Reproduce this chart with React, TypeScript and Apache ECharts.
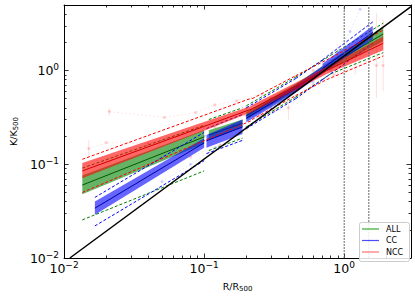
import React, { useEffect, useRef } from "react";
import * as echarts from "echarts";

const FONT = "DejaVu Sans";

const xMin = 0.01;
const xMax = 3;
const yMin = 0.01;
const yMax = 5;
const majorTicksX = [0.01, 0.1, 1];
const minorTicksX = [0.02, 0.03, 0.04, 0.05, 0.06, 0.07, 0.08, 0.09, 0.2, 0.3, 0.4, 0.5, 0.6, 0.7, 0.8, 0.9, 2, 3];
const majorTicksY = [0.01, 0.1, 1];
const minorTicksY = [0.02, 0.03, 0.04, 0.05, 0.06, 0.07, 0.08, 0.09, 0.2, 0.3, 0.4, 0.5, 0.6, 0.7, 0.8, 0.9, 2, 3, 4, 5];

// fit segments: [x0, x1, bandLo0, bandHi0, bandLo1, bandHi1, mid0, mid1, dashUp0, dashUp1, dashLo0, dashLo1]
const allFits = [
  [0.0135, 0.1, 0.048, 0.076, 0.165, 0.232, 0.06, 0.196, 0.091, 0.26, 0.0255, 0.085],
  [0.108, 0.188, 0.182, 0.23, 0.25, 0.3, 0.205, 0.274, 0.3, 0.4, 0.14, 0.19],
  [0.2, 0.45, 0.3, 0.36, 0.6, 0.72, 0.33, 0.66, 0.42, 0.85, 0.25, 0.52],
  [0.45, 0.8, 0.6, 0.72, 1.05, 1.26, 0.66, 1.15, 0.85, 1.45, 0.52, 0.92],
  [0.8, 1.9, 1.03, 1.28, 2.05, 2.95, 1.15, 2.45, 1.45, 3.2, 0.92, 1.55],
];
const ccFits = [
  [0.0166, 0.1, 0.029, 0.04, 0.15, 0.19, 0.034, 0.169, 0.0443, 0.219, 0.022, 0.109],
  [0.104, 0.188, 0.15, 0.205, 0.21, 0.3, 0.178, 0.25, 0.24, 0.34, 0.13, 0.18],
  [0.2, 0.45, 0.28, 0.34, 0.58, 0.7, 0.31, 0.64, 0.4, 0.82, 0.24, 0.5],
  [0.45, 0.7, 0.58, 0.7, 0.93, 1.12, 0.64, 1.02, 0.82, 1.3, 0.5, 0.8],
  [0.7, 1.6, 0.93, 1.18, 2.15, 3.0, 1.05, 2.55, 1.3, 3.3, 0.8, 1.95],
];
const nccFits = [
  [0.0135, 0.22, 0.071, 0.103, 0.36, 0.42, 0.085, 0.39, 0.113, 0.51, 0.05, 0.294],
  [0.22, 0.45, 0.36, 0.43, 0.62, 0.74, 0.39, 0.68, 0.5, 0.88, 0.3, 0.54],
  [0.45, 0.75, 0.62, 0.74, 0.92, 1.09, 0.68, 1.0, 0.88, 1.3, 0.54, 0.8],
  [0.75, 1.9, 0.92, 1.09, 1.65, 2.3, 1.0, 1.95, 1.3, 2.7, 0.8, 1.43],
];

// self-similar baseline endpoints
const baselineX = [0.011, 3];
const baselineY = [0.01, 4.8];

// faint individual profiles (NCC pink, CC blue)
const nccProfiles = [
  [[0.021, 0.365], [0.052, 0.316], [0.087, 0.356], [0.119, 0.43], [0.171, 0.475], [0.26, 0.56]],
  [[0.015, 0.147], [0.02, 0.17], [0.04, 0.166], [0.065, 0.2], [0.12, 0.25], [0.2, 0.33], [0.35, 0.5]],
  [[0.6, 1.0], [0.9, 1.35], [1.2, 1.4], [1.7, 1.13], [1.9, 1.13]],
  [[0.3, 0.5], [0.45, 0.62], [0.7, 0.95], [1.0, 1.2], [1.3, 1.5]],
  [[0.25, 0.33], [0.4, 0.4], [0.6, 0.7], [0.85, 0.9]],
  [[0.08, 0.12], [0.13, 0.16], [0.2, 0.24], [0.32, 0.38]],
];
const ccProfiles = [
  [[0.2, 0.4], [0.3, 0.5], [0.45, 0.7], [0.7, 1.0], [0.9, 1.6], [1.1, 2.6], [1.3, 4.5], [1.4, 6]],
  [[0.05, 0.065], [0.08, 0.1], [0.12, 0.15], [0.2, 0.25], [0.3, 0.4]],
  [[0.3, 0.45], [0.45, 0.65], [0.6, 0.75], [0.8, 1.0]],
  [[0.1, 0.2], [0.16, 0.26], [0.25, 0.36], [0.4, 0.55]],
];
// error bars: [x, k, lo, hi]
const nccErrors = [
  [1.7, 1.13, 0.51, 4.1],
  [1.9, 1.13, 0.6, 3.5],
  [1.2, 1.4, 0.9, 2.2],
  [0.9, 1.35, 0.85, 1.9],
  [0.4, 0.4, 0.3, 0.52],
  [0.021, 0.365, 0.33, 0.4],
  [0.015, 0.147, 0.12, 0.18],
];

const legendItems = [
  { name: "ALL", color: "rgba(0,150,0,0.8)" },
  { name: "CC", color: "rgba(0,0,255,0.7)" },
  { name: "NCC", color: "rgba(255,0,0,0.55)" },
];

function supLabel(v: number) {
  const e = Math.round(Math.log10(v));
  return `{b|10}{e|${e < 0 ? "\u2212" + -e : e}}`;
}

const labelRich = {
  b: { fontSize: 12.5, fontFamily: FONT, color: "#000", lineHeight: 16 },
  e: { fontSize: 9, fontFamily: FONT, color: "#000", lineHeight: 10, verticalAlign: "top" },
};
const nameRich = {
  a: { fontSize: 9.5, fontFamily: FONT, color: "#000", lineHeight: 12 },
  s: { fontSize: 7, fontFamily: FONT, color: "#000", lineHeight: 7, verticalAlign: "bottom" },
};

function fitRenderer(fill: string, mid: string, dash: string) {
  return (params: any, api: any) => {
    const v = (i: number) => api.value(i);
    const p = (x: number, y: number) => api.coord([x, y]);
    const x0 = v(0);
    const x1 = v(1);
    const line = (a: number[], b: number[], stroke: string, dashed: boolean) => ({
      type: "line",
      shape: { x1: a[0], y1: a[1], x2: b[0], y2: b[1] },
      style: { stroke, lineWidth: 1, lineDash: dashed ? [3, 2] : null },
    });
    return {
      type: "group",
      children: [
        {
          type: "polygon",
          shape: { points: [p(x0, v(3)), p(x1, v(5)), p(x1, v(4)), p(x0, v(2))] },
          style: { fill },
        },
        line(p(x0, v(6)), p(x1, v(7)), mid, false),
        line(p(x0, v(8)), p(x1, v(9)), dash, true),
        line(p(x0, v(10)), p(x1, v(11)), dash, true),
      ],
    };
  };
}

function logAxis(kind: "x" | "y", pos: string, major: boolean, withLabel: boolean) {
  const isX = kind === "x";
  return {
    type: "log",
    logBase: 10,
    position: pos,
    min: isX ? xMin : yMin,
    max: isX ? xMax : yMax,
    axisLine: { show: major, lineStyle: { color: "#000", width: 1 } },
    axisTick: {
      show: true,
      inside: true,
      length: major ? 4.5 : 2.5,
      lineStyle: { color: "#000", width: 0.8 },
      customValues: major ? (isX ? majorTicksX : majorTicksY) : isX ? minorTicksX : minorTicksY,
    },
    axisLabel: withLabel
      ? {
          show: true,
          customValues: isX ? majorTicksX : majorTicksY,
          formatter: (v: number) => supLabel(v),
          rich: labelRich,
          margin: isX ? 2 : 5,
        }
      : { show: false },
    splitLine: { show: false },
    minorTick: { show: false },
    minorSplitLine: { show: false },
  };
}

export default function App() {
  const ref = useRef<HTMLDivElement>(null);
  useEffect(() => {
    if (!ref.current) return;
    const chart = echarts.init(ref.current, undefined, { renderer: "svg" });

    const series: any[] = [];
    nccProfiles.forEach((d) =>
      series.push({
        type: "line",
        data: d,
        symbol: "circle",
        symbolSize: 3,
        lineStyle: { color: "rgba(255,80,80,0.18)", width: 0.8, type: [2, 2] },
        itemStyle: { color: "rgba(255,100,100,0.3)" },
        z: 1,
        silent: true,
      })
    );
    ccProfiles.forEach((d) =>
      series.push({
        type: "line",
        data: d,
        symbol: "circle",
        symbolSize: 3,
        lineStyle: { color: "rgba(90,90,255,0.18)", width: 0.8, type: [2, 2] },
        itemStyle: { color: "rgba(110,110,255,0.3)" },
        z: 1,
        silent: true,
      })
    );
    series.push({
      type: "custom",
      data: nccErrors,
      clip: true,
      z: 1,
      silent: true,
      renderItem: (params: any, api: any) => {
        const a = api.coord([api.value(0), api.value(2)]);
        const b = api.coord([api.value(0), api.value(3)]);
        return {
          type: "line",
          shape: { x1: a[0], y1: a[1], x2: b[0], y2: b[1] },
          style: { stroke: "rgba(255,100,100,0.2)", lineWidth: 1 },
        };
      },
    });
    series.push({
      type: "custom",
      data: allFits,
      clip: true,
      z: 2,
      silent: true,
      renderItem: fitRenderer("rgba(0,128,0,0.6)", "#005a00", "#008000"),
    });
    series.push({
      type: "custom",
      data: ccFits,
      clip: true,
      z: 3,
      silent: true,
      renderItem: fitRenderer("rgba(0,0,255,0.6)", "#0000a0", "#0000ff"),
    });
    series.push({
      type: "custom",
      data: nccFits,
      clip: true,
      z: 4,
      silent: true,
      renderItem: fitRenderer("rgba(255,0,0,0.6)", "#d00000", "#ff0000"),
    });
    series.push({
      type: "line",
      data: baselineX.map((x, i) => [x, baselineY[i]]),
      symbol: "none",
      lineStyle: { color: "#000", width: 1.5 },
      z: 6,
      silent: true,
    });
    [1, 1.5].forEach((xv) =>
      series.push({
        type: "line",
        data: [
          [xv, yMin],
          [xv, yMax],
        ],
        symbol: "none",
        lineStyle: { color: "#666", width: 1, type: [2, 1] },
        z: 5,
        silent: true,
      })
    );

    const legendGraphic: any[] = [
      {
        type: "rect",
        shape: { x: 359.5, y: 222.5, width: 50, height: 39, r: 2 },
        style: { fill: "rgba(255,255,255,0.85)", stroke: "#cccccc", lineWidth: 1 },
        z: 100,
      },
    ];
    legendItems.forEach((it, i) => {
      const y = 229 + i * 11.5;
      legendGraphic.push({
        type: "line",
        shape: { x1: 362, y1: y, x2: 379, y2: y },
        style: { stroke: it.color, lineWidth: 1.2 },
        z: 101,
      });
      legendGraphic.push({
        type: "text",
        x: 386,
        y,
        style: { text: it.name, fontSize: 8, fontFamily: FONT, fill: "#000", verticalAlign: "middle" },
        z: 101,
      });
    });

    chart.setOption({
      animation: false,
      backgroundColor: "#fff",
      textStyle: { fontFamily: FONT },
      grid: { left: 49, top: 5, width: 362, height: 259, containLabel: false },
      xAxis: [
        {
          ...logAxis("x", "bottom", true, true),
          name: "{a|R/R}{s|500}",
          nameLocation: "middle",
          nameGap: 22,
          nameTextStyle: { rich: nameRich },
        },
        logAxis("x", "bottom", false, false),
        logAxis("x", "top", true, false),
        logAxis("x", "top", false, false),
      ],
      yAxis: [
        {
          ...logAxis("y", "left", true, true),
          name: "{a|K/K}{s|500}",
          nameLocation: "middle",
          nameGap: 40,
          nameRotate: 90,
          nameTextStyle: { rich: nameRich },
        },
        logAxis("y", "left", false, false),
        logAxis("y", "right", true, false),
        logAxis("y", "right", false, false),
      ],
      series,
      graphic: legendGraphic,
    });
    return () => chart.dispose();
  }, []);
  return <div ref={ref} style={{ position: "absolute", left: 0, top: 0, width: 415, height: 297 }} />;
}
